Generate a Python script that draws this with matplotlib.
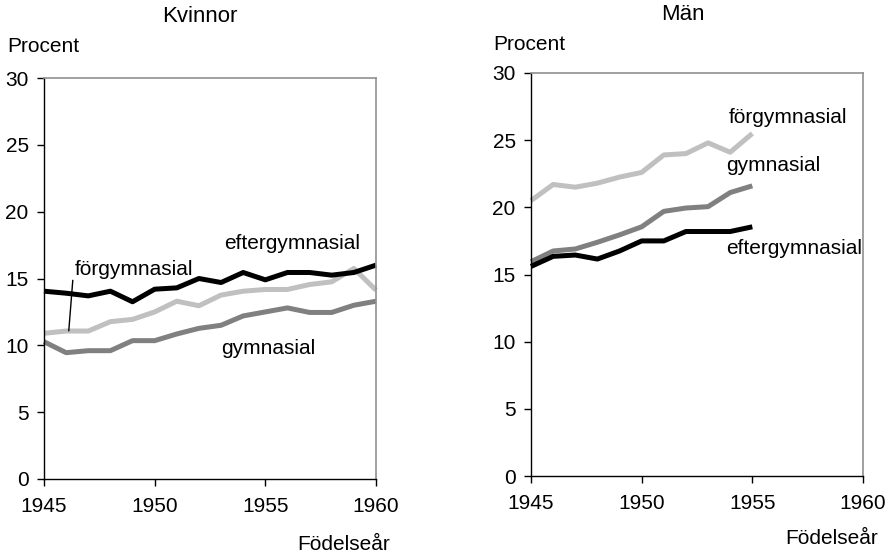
import matplotlib
matplotlib.use("Agg")
import matplotlib.pyplot as plt

plt.rcParams['font.family'] = ['Liberation Sans', 'DejaVu Sans']

years_k = list(range(1945, 1961))
k_efter = [14.05, 13.9, 13.7, 14.05, 13.26, 14.2, 14.3, 15.0, 14.7, 15.45, 14.9, 15.45, 15.45, 15.25, 15.45, 16.0]
k_forg = [10.9, 11.07, 11.07, 11.77, 11.94, 12.5, 13.3, 12.96, 13.76, 14.05, 14.18, 14.18, 14.55, 14.75, 15.75, 14.13]
k_gymn = [10.27, 9.45, 9.6, 9.6, 10.35, 10.35, 10.85, 11.27, 11.5, 12.2, 12.5, 12.8, 12.46, 12.46, 13.0, 13.3]

years_m = list(range(1945, 1956))
m_forg = [20.5, 21.7, 21.5, 21.8, 22.25, 22.6, 23.9, 24.0, 24.8, 24.1, 25.5]
m_gymn = [15.95, 16.75, 16.9, 17.4, 17.95, 18.55, 19.7, 19.95, 20.05, 21.1, 21.6]
m_efter = [15.6, 16.35, 16.45, 16.15, 16.75, 17.5, 17.5, 18.2, 18.2, 18.2, 18.55]

xticks = [1945, 1950, 1955, 1960]
yticks = [0, 5, 10, 15, 20, 25, 30]

C_BLACK = '#000000'
C_MID = '#808080'
C_LIGHT = '#c0c0c0'
LW = 3.6
FS = 15
FS_T = 16

W, H = 887, 553
fig = plt.figure(figsize=(W / 100, H / 100), dpi=100)

def px_axes(x0, x1, ytop, ybot):
    return fig.add_axes([x0 / W, 1 - ybot / H, (x1 - x0) / W, (ybot - ytop) / H])

def style(ax):
    ax.set_xlim(1945, 1960)
    ax.set_ylim(0, 30)
    ax.set_xticks(xticks)
    ax.set_yticks(yticks)
    ax.tick_params(direction='out', length=5, width=1, labelsize=FS, pad=6, color='black')
    ax.tick_params(axis='x', pad=8)
    for s in ['top', 'right']:
        ax.spines[s].set_color('#909090')
        ax.spines[s].set_linewidth(1.2)
    for s in ['left', 'bottom']:
        ax.spines[s].set_color('black')
        ax.spines[s].set_linewidth(1.0)

ax1 = px_axes(44, 376, 78, 479)
style(ax1)
ax1.plot(years_k, k_forg, color=C_LIGHT, lw=LW, solid_capstyle='butt', clip_on=False)
ax1.plot(years_k, k_gymn, color=C_MID, lw=LW, solid_capstyle='butt', clip_on=False)
ax1.plot(years_k, k_efter, color=C_BLACK, lw=LW, solid_capstyle='butt', clip_on=False)
ax1.text(1946.4, 15.65, 'förgymnasial', fontsize=FS, ha='left', va='center')
ax1.plot([1946.3, 1946.12], [14.85, 11.1], color='black', lw=1)
ax1.text(1953.15, 17.6, 'eftergymnasial', fontsize=FS, ha='left', va='center')
ax1.text(1953.0, 9.8, 'gymnasial', fontsize=FS, ha='left', va='center')

ax2 = px_axes(531, 863, 73, 476)
style(ax2)
ax2.plot(years_m, m_forg, color=C_LIGHT, lw=LW, solid_capstyle='butt', clip_on=False)
ax2.plot(years_m, m_gymn, color=C_MID, lw=LW, solid_capstyle='butt', clip_on=False)
ax2.plot(years_m, m_efter, color=C_BLACK, lw=LW, solid_capstyle='butt', clip_on=False)
ax2.text(1953.95, 26.7, 'förgymnasial', fontsize=FS, ha='left', va='center')
ax2.text(1953.8, 23.1, 'gymnasial', fontsize=FS, ha='left', va='center')
ax2.text(1953.8, 16.9, 'eftergymnasial', fontsize=FS, ha='left', va='center')

fig.text(200 / W, 1 - 17 / H, 'Kvinnor', fontsize=FS_T, ha='center', va='center')
fig.text(683 / W, 1 - 14 / H, 'Män', fontsize=FS_T, ha='center', va='center')
fig.text(7 / W, 1 - 46 / H, 'Procent', fontsize=FS, ha='left', va='center')
fig.text(493 / W, 1 - 44 / H, 'Procent', fontsize=FS, ha='left', va='center')
fig.text(390 / W, 1 - 544 / H, 'Födelseår', fontsize=FS, ha='right', va='center')
fig.text(878 / W, 1 - 538 / H, 'Födelseår', fontsize=FS, ha='right', va='center')

fig.savefig('out.png', dpi=100)
